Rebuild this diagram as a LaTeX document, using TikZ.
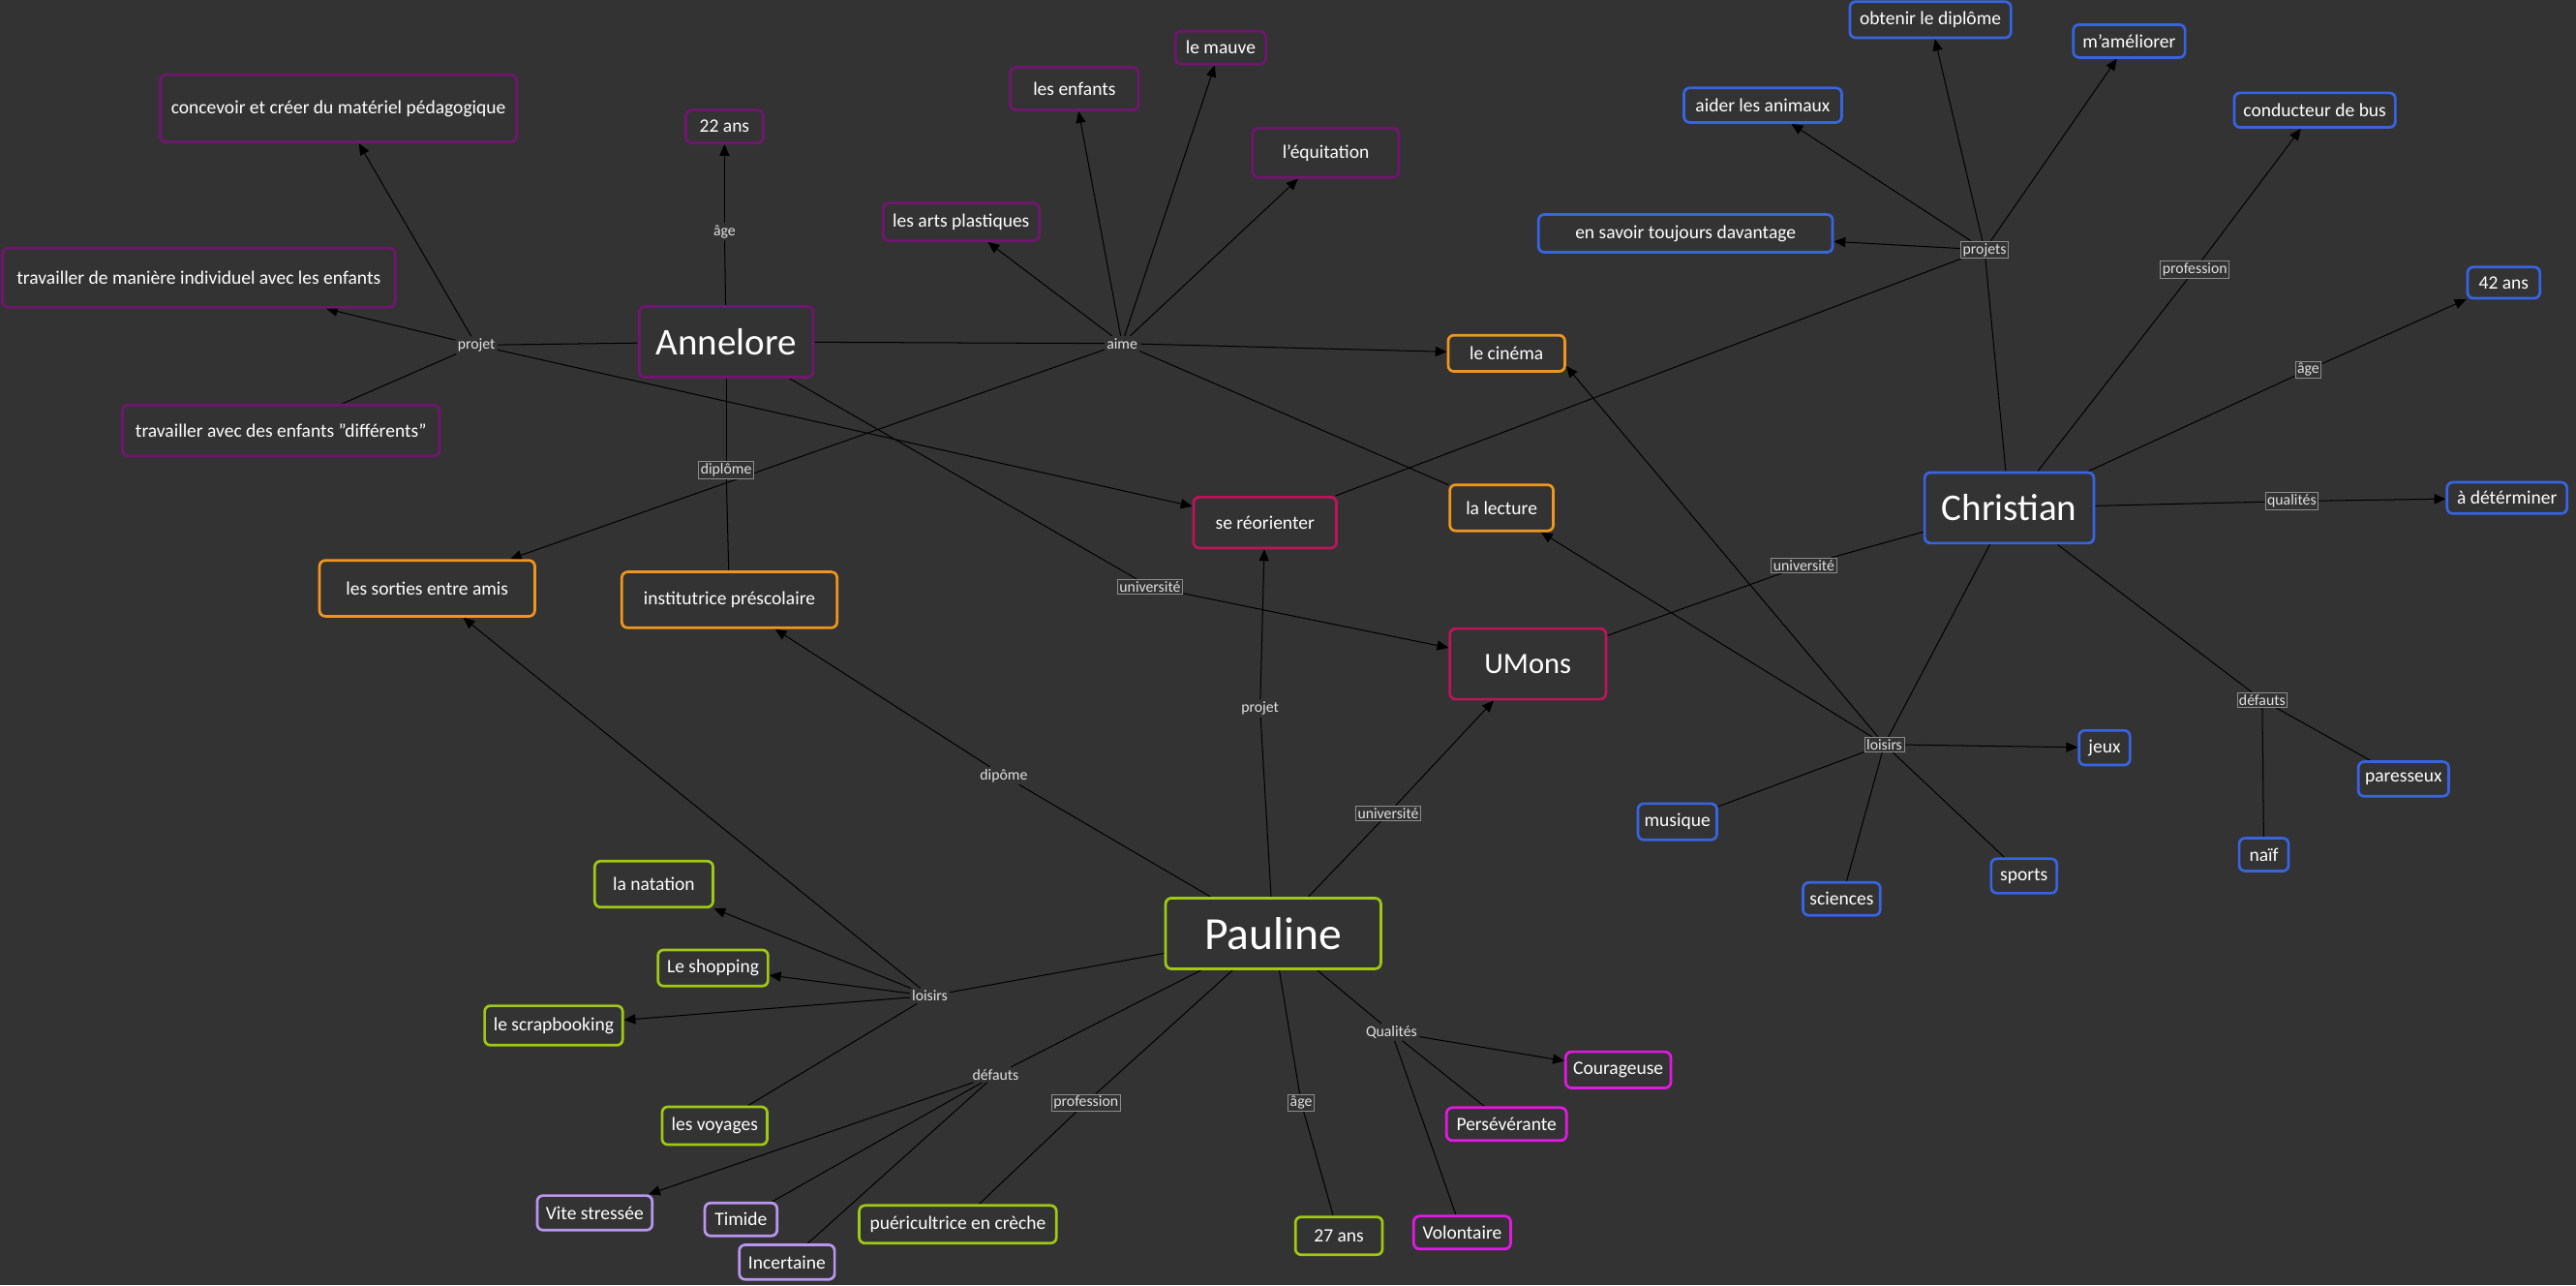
\documentclass[tikz,border=0pt]{standalone}
\usepackage{fontspec}
\setmainfont{Carlito}
\usetikzlibrary{arrows.meta}
\definecolor{bg}{RGB}{51,51,51}
\definecolor{pur}{RGB}{112,22,112}
\definecolor{ora}{RGB}{240,150,30}
\definecolor{cri}{RGB}{190,20,90}
\definecolor{blu}{RGB}{55,100,225}
\definecolor{gre}{RGB}{160,200,20}
\definecolor{lav}{RGB}{185,150,240}
\definecolor{mag}{RGB}{225,25,225}
\definecolor{labtxt}{RGB}{225,225,225}
\definecolor{labbox}{RGB}{140,140,140}
\pgfdeclarelayer{back}
\pgfdeclarelayer{edges}
\pgfsetlayers{back,edges,main}
\tikzset{
  box/.style={draw=#1, line width=1.6pt, rounded corners=3.5pt, fill=bg, text=white,
    font=\fontsize{11.5}{13}\selectfont, inner sep=0pt},
  big/.style={font=\fontsize{23}{26}\selectfont},
  sz/.style 2 args={minimum width=#1pt, minimum height=#2pt},
  lab/.style={text=labtxt, font=\fontsize{9.3}{10}\selectfont, inner sep=1.2pt, fill=bg},
  blab/.style={lab, draw=labbox, line width=0.5pt},
  ln/.style={line width=0.6pt, draw=black},
  arr/.style={ln, -{Triangle[length=7pt,width=6pt]}}
}
\begin{document}
\begin{tikzpicture}[x=1pt,y=-1pt]
\begin{pgfonlayer}{back}
\fill[bg] (0,0) rectangle (1568,782);
\end{pgfonlayer}
\useasboundingbox (0,0) rectangle (1568,782);

% Annelore group
\node[box=pur, big, sz={106}{43}] (ann) at (442,208) {Annelore};
\node[box=pur, sz={217}{41}] (conc) at (206,66) {concevoir et créer du matériel pédagogique};
\node[box=pur, sz={47}{20}] (a22) at (441,77) {22 ans};
\node[box=pur, sz={239}{36}] (tind) at (121,169) {travailler de manière individuel avec les enfants};
\node[box=pur, sz={193}{31}] (tdif) at (171,262) {travailler avec des enfants "différents"};
\node[box=pur, sz={78}{26}] (enf) at (654,54) {les enfants};
\node[box=pur, sz={55}{20}] (mauve) at (743,29) {le mauve};
\node[box=pur, sz={89}{30}] (equi) at (807,93) {l'équitation};
\node[box=pur, sz={95}{23}] (arts) at (585,135) {les arts plastiques};

% orange
\node[box=ora, sz={71}{22}] (cine) at (917,215) {le cinéma};
\node[box=ora, sz={63}{28}] (lect) at (914,309) {la lecture};
\node[box=ora, sz={131}{34}] (sort) at (260,358) {les sorties entre amis};
\node[box=ora, sz={131}{34}] (inst) at (444,365) {institutrice préscolaire};

% crimson
\node[box=cri, sz={87}{31}] (reor) at (770,318) {se réorienter};
\node[box=cri, sz={95}{43}, font=\fontsize{18}{20}\selectfont] (umons) at (930,404) {UMons};

% Christian group
\node[box=blu, big, sz={103}{43}] (chr) at (1223,309) {Christian};
\node[box=blu, sz={98}{22}] (obt) at (1175,12) {obtenir le diplôme};
\node[box=blu, sz={68}{20}] (amel) at (1296,25) {m'améliorer};
\node[box=blu, sz={96}{21}] (aider) at (1073,64) {aider les animaux};
\node[box=blu, sz={98}{21}] (cond) at (1409,67) {conducteur de bus};
\node[box=blu, sz={179}{23}] (sav) at (1026,142) {en savoir toujours davantage};
\node[box=blu, sz={44}{19}] (a42) at (1524,172) {42 ans};
\node[box=blu, sz={73}{19}] (adet) at (1526,303) {à détérminer};
\node[box=blu, sz={31}{21}] (jeux) at (1281,455) {jeux};
\node[box=blu, sz={55}{21}] (par) at (1463,474) {paresseux};
\node[box=blu, sz={48}{22}] (mus) at (1021,500) {musique};
\node[box=blu, sz={30}{20}] (naif) at (1378,520) {naïf};
\node[box=blu, sz={47}{20}] (sci) at (1121,547) {sciences};
\node[box=blu, sz={40}{21}] (spo) at (1232,533) {sports};

% Pauline group
\node[box=gre, sz={131}{43}, font=\fontsize{28}{30}\selectfont] (pau) at (775,568) {Pauline};
\node[box=gre, sz={72}{28}] (nat) at (398,538) {la natation};
\node[box=gre, sz={67}{22}] (shop) at (434,589) {Le shopping};
\node[box=gre, sz={84}{24}] (scrap) at (337,624) {le scrapbooking};
\node[box=gre, sz={64}{23}] (voy) at (435,685) {les voyages};
\node[box=gre, sz={120}{23}] (puer) at (583,745) {puéricultrice en crèche};
\node[box=gre, sz={53}{23}] (a27) at (815,752) {27 ans};
\node[box=lav, sz={70}{21}] (vite) at (362,738) {Vite stressée};
\node[box=lav, sz={44}{20}] (tim) at (451,742) {Timide};
\node[box=lav, sz={58}{21}] (inc) at (479,768) {Incertaine};
\node[box=mag, sz={64}{22}] (cour) at (985,651) {Courageuse};
\node[box=mag, sz={73}{20}] (pers) at (917,684) {Persévérante};
\node[box=mag, sz={59}{20}] (vol) at (890,750) {Volontaire};

% linking phrases
\node[lab] (lAgeA) at (441,141) {âge};
\node[lab] (lProjA) at (290,210) {projet};
\node[lab] (lAime) at (683,209) {aime};
\node[blab] (lDipA) at (442,286) {diplôme};
\node[blab] (lUnivA) at (700,357) {université};
\node[blab] (lProjC) at (1208,152) {projets};
\node[blab] (lProfC) at (1336,164) {profession};
\node[blab] (lAgeC) at (1405,225) {âge};
\node[blab] (lQualC) at (1395,305) {qualités};
\node[blab] (lUnivC) at (1098,344) {université};
\node[blab] (lLoisC) at (1147,453) {loisirs};
\node[blab] (lDefC) at (1377,426) {défauts};
\node[lab] (lProjP) at (767,431) {projet};
\node[lab] (lDipP) at (611,472) {dipôme};
\node[blab] (lUnivP) at (845,495) {université};
\node[lab] (lLoisP) at (566,606) {loisirs};
\node[lab] (lDefP) at (606,654) {défauts};
\node[blab] (lProfP) at (661,671) {profession};
\node[blab] (lAgeP) at (792,671) {âge};
\node[lab] (lQualP) at (847,628) {Qualités};

\begin{pgfonlayer}{edges}
% Annelore
\draw[ln] (ann) -- (lAgeA); \draw[arr] (lAgeA) -- (a22);
\draw[ln] (ann) -- (lProjA);
\draw[arr] (lProjA) -- (conc);
\draw[arr] (lProjA) -- (tind);
\draw[ln] (lProjA) -- (tdif);
\draw[arr] (lProjA) -- (reor);
\draw[ln] (ann) -- (lAime);
\draw[arr] (lAime) -- (arts);
\draw[arr] (lAime) -- (enf);
\draw[arr] (lAime) -- (mauve);
\draw[arr] (lAime) -- (equi);
\draw[arr] (lAime) -- (cine);
\draw[arr] (lAime) -- (sort);
\draw[ln] (lAime) -- (lect);
\draw[ln] (ann) -- (lDipA); \draw[ln] (lDipA) -- (inst);
\draw[ln] (ann) -- (lUnivA); \draw[arr] (lUnivA) -- (umons);
% Christian
\draw[ln] (chr) -- (lProjC);
\draw[arr] (lProjC) -- (sav);
\draw[arr] (lProjC) -- (aider);
\draw[arr] (lProjC) -- (obt);
\draw[arr] (lProjC) -- (amel);
\draw[ln] (lProjC) -- (reor);
\draw[ln] (chr) -- (lProfC); \draw[arr] (lProfC) -- (cond);
\draw[ln] (chr) -- (lAgeC); \draw[arr] (lAgeC) -- (a42);
\draw[ln] (chr) -- (lQualC); \draw[arr] (lQualC) -- (adet);
\draw[ln] (chr) -- (lUnivC); \draw[ln] (lUnivC) -- (umons);
\draw[ln] (chr) -- (lLoisC);
\draw[arr] (lLoisC) -- (jeux);
\draw[ln] (lLoisC) -- (mus);
\draw[ln] (lLoisC) -- (sci);
\draw[ln] (lLoisC) -- (spo);
\draw[arr] (lLoisC) -- (cine.-12);
\draw[arr] (lLoisC) -- (lect);
\draw[ln] (chr) -- (lDefC);
\draw[ln] (lDefC) -- (par);
\draw[ln] (lDefC) -- (naif);
% Pauline
\draw[ln] (pau) -- (lDipP); \draw[arr] (lDipP) -- (inst);
\draw[ln] (pau) -- (lProjP); \draw[arr] (lProjP) -- (reor);
\draw[ln] (pau) -- (lUnivP); \draw[arr] (lUnivP) -- (umons);
\draw[ln] (pau) -- (lLoisP);
\draw[arr] (lLoisP) -- (nat);
\draw[arr] (lLoisP) -- (shop);
\draw[arr] (lLoisP) -- (scrap);
\draw[ln] (lLoisP) -- (voy);
\draw[arr] (lLoisP) -- (sort);
\draw[ln] (pau) -- (lDefP);
\draw[arr] (lDefP) -- (vite);
\draw[ln] (lDefP) -- (tim);
\draw[ln] (lDefP) -- (inc);
\draw[ln] (pau) -- (lProfP); \draw[ln] (lProfP) -- (puer);
\draw[ln] (pau) -- (lAgeP); \draw[ln] (lAgeP) -- (a27);
\draw[ln] (pau) -- (lQualP);
\draw[arr] (lQualP) -- (cour);
\draw[ln] (lQualP) -- (pers);
\draw[ln] (lQualP) -- (vol);
\end{pgfonlayer}
\end{tikzpicture}
\end{document}
